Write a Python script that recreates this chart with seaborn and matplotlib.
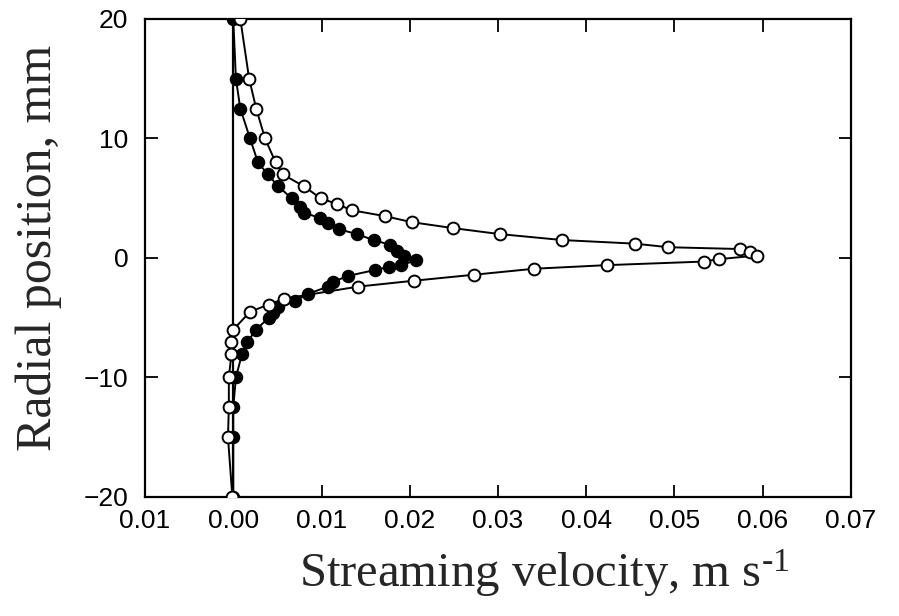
import matplotlib
matplotlib.use("Agg")
import matplotlib.pyplot as plt
import seaborn as sns
import pandas as pd

# Open circles series
open_x = [0.0008, 0.0018, 0.0026, 0.0036, 0.0048, 0.0056, 0.0080, 0.0099, 0.0118, 0.0134,
          0.0172, 0.0202, 0.0249, 0.0302, 0.0373, 0.0455, 0.0493, 0.0574, 0.0585, 0.0593,
          0.0550, 0.0533, 0.0423, 0.0341, 0.0273, 0.0205, 0.0141, 0.0058, 0.0040, 0.0019,
          0.0000, -0.0002, -0.0002, -0.0005, -0.0005, -0.0006, -0.0001]
open_y = [20, 15, 12.5, 10, 8, 7, 6, 5, 4.5, 4,
          3.5, 3, 2.5, 2, 1.5, 1.2, 0.9, 0.75, 0.5, 0.2,
          -0.1, -0.3, -0.6, -0.9, -1.4, -1.9, -2.4, -3.4, -3.9, -4.5,
          -6, -7, -8, -10, -12.5, -15, -20]

# Filled circles series
fill_x = [0.0000, 0.0003, 0.0008, 0.0019, 0.0028, 0.0039, 0.0051, 0.0066, 0.0076, 0.0080,
          0.0098, 0.0107, 0.0120, 0.0140, 0.0159, 0.0178, 0.0185, 0.0193, 0.0207, 0.0190,
          0.0176, 0.0161, 0.0130, 0.0113, 0.0107, 0.0085, 0.0070, 0.0051, 0.0045, 0.0040,
          0.0026, 0.0016, 0.0010, 0.0003, 0.0000, 0.0000, 0.0000]
fill_y = [20, 15, 12.5, 10, 8, 7, 6, 5, 4.3, 3.8,
          3.35, 2.9, 2.4, 2.0, 1.5, 1.1, 0.6, 0.2, -0.2, -0.6,
          -0.75, -1.0, -1.5, -2.0, -2.4, -3.0, -3.6, -4.1, -4.6, -5.0,
          -6, -7, -8, -10, -12.5, -15, -20]

x_ticks = [-0.01, 0.00, 0.01, 0.02, 0.03, 0.04, 0.05, 0.06, 0.07]
x_tick_labels = ["0.01", "0.00", "0.01", "0.02", "0.03", "0.04", "0.05", "0.06", "0.07"]
y_ticks = [-20, -10, 0, 10, 20]

sns.set_theme(style="ticks")
plt.rcParams['font.family'] = ['Liberation Sans', 'DejaVu Sans']
plt.rcParams['mathtext.fontset'] = 'custom'
plt.rcParams['mathtext.rm'] = 'Liberation Serif'
plt.rcParams['mathtext.it'] = 'Liberation Serif:italic'

fig = plt.figure(figsize=(8.99, 6.16), dpi=100)
ax = fig.add_axes([0.1613, 0.1932, 0.7853, 0.776])

df_open = pd.DataFrame({"x": open_x, "y": open_y})
df_fill = pd.DataFrame({"x": fill_x, "y": fill_y})

ax.axvline(0, color="black", lw=1.6, zorder=1)

sns.lineplot(data=df_fill, x="x", y="y", sort=False, estimator=None, ax=ax,
             color="black", lw=1.4, marker="o", markersize=8.5,
             markerfacecolor="black", markeredgecolor="black", markeredgewidth=1.2, zorder=3)
sns.lineplot(data=df_open, x="x", y="y", sort=False, estimator=None, ax=ax,
             color="black", lw=1.4, marker="o", markersize=8.5,
             markerfacecolor="white", markeredgecolor="black", markeredgewidth=1.4, zorder=4)

ax.set_xlim(-0.01, 0.07)
ax.set_ylim(-20, 20)
ax.set_xticks(x_ticks)
ax.set_xticklabels(x_tick_labels)
ax.set_yticks(y_ticks)

ax.tick_params(direction="in", length=9, width=1.3, top=True, right=True,
               labelsize=19, colors="black")
ax.tick_params(axis="x", pad=9)
ax.tick_params(axis="y", pad=12)
for s in ax.spines.values():
    s.set_linewidth(1.6)
    s.set_color("black")

ax.set_xlabel("Streaming velocity, m s$^{\\mathregular{\u2010}1}$", fontsize=35,
              family=["Liberation Serif"])
ax.set_ylabel("Radial position, mm", fontsize=36, family=["Liberation Serif"])
ax.xaxis.set_label_coords(0.566, -0.105)
ax.yaxis.set_label_coords(-0.118, 0.521)

fig.savefig("out.png", dpi=100)
